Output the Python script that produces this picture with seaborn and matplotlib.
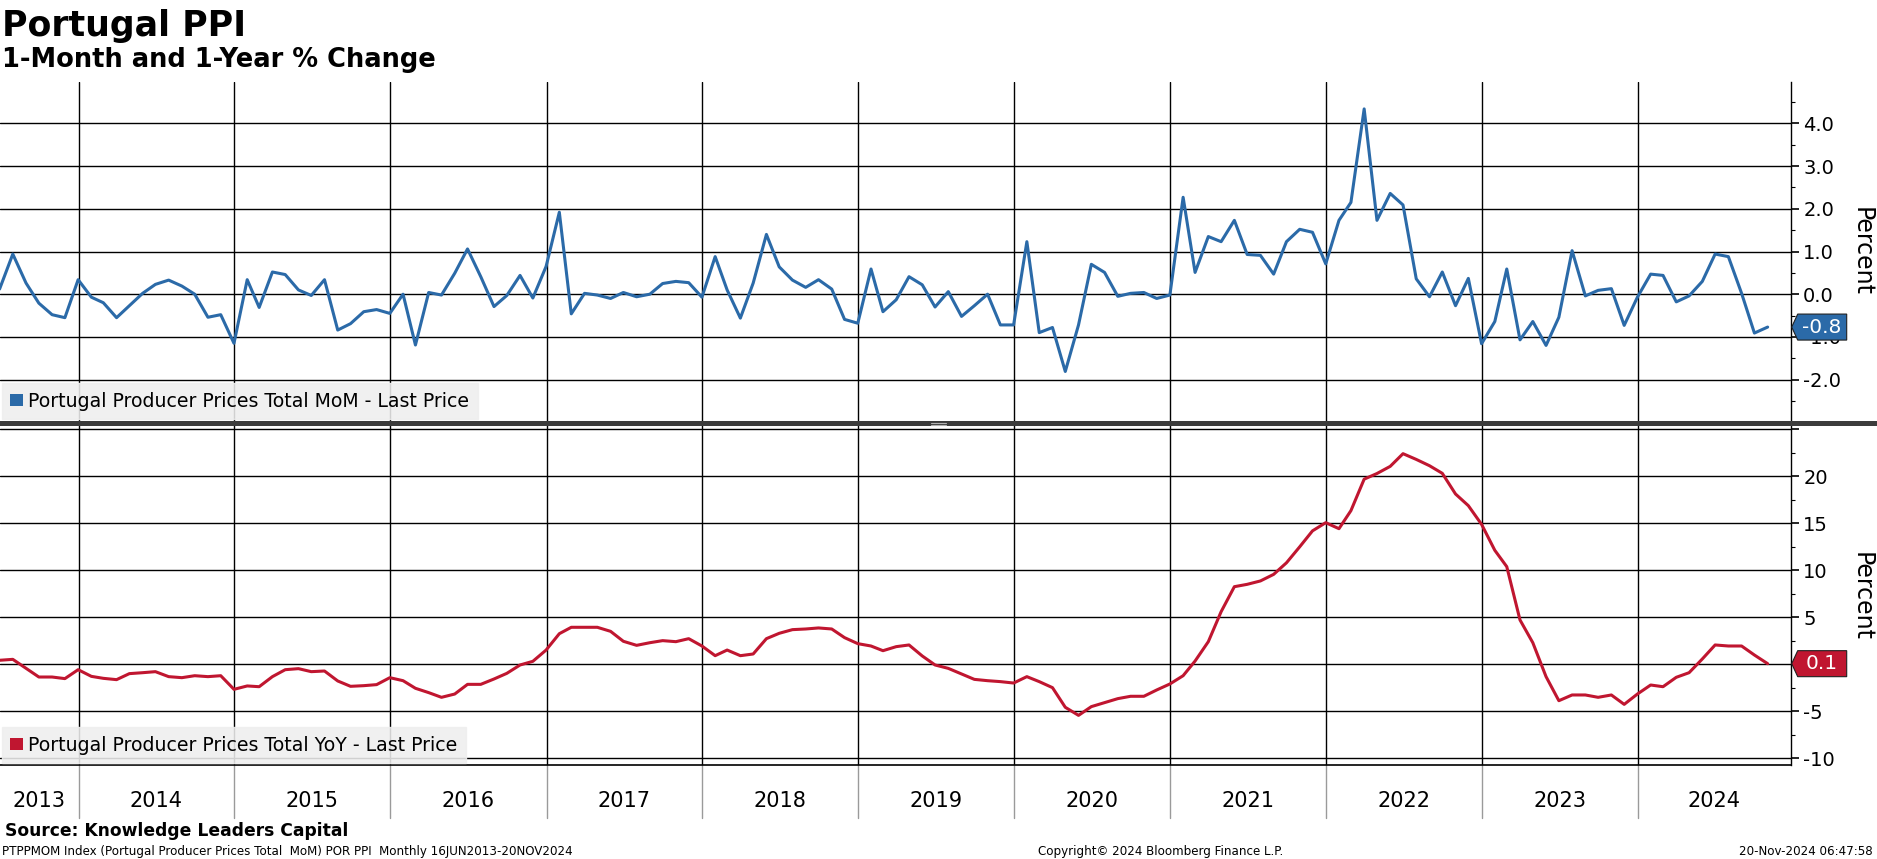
import numpy as np
import pandas as pd
import matplotlib
matplotlib.use("Agg")
import matplotlib.pyplot as plt
import matplotlib.dates as mdates
import matplotlib.ticker as mticker
from matplotlib.patches import Patch, Polygon, Rectangle
from matplotlib.lines import Line2D
from matplotlib.transforms import IdentityTransform
import seaborn as sns

# Monthly data, Jun 2013 .. Oct 2024 (month-end dates)
mom = [0.12, 0.94, 0.26, -0.21, -0.48, -0.55, 0.34, -0.07, -0.20, -0.55,
       -0.27, 0.02, 0.23, 0.33, 0.19, 0.00, -0.54, -0.48, -1.15, 0.34,
       -0.31, 0.52, 0.46, 0.10, -0.03, 0.34, -0.84, -0.69, -0.41, -0.36,
       -0.45, 0.00, -1.19, 0.04, -0.02, 0.49, 1.06, 0.41, -0.29, -0.03,
       0.44, -0.09, 0.65, 1.92, -0.46, 0.02, -0.02, -0.10, 0.04, -0.06,
       0.00, 0.25, 0.30, 0.27, -0.07, 0.88, 0.10, -0.56, 0.26, 1.40,
       0.64, 0.33, 0.16, 0.34, 0.12, -0.59, -0.68, 0.59, -0.41, -0.13,
       0.41, 0.22, -0.30, 0.06, -0.52, -0.27, 0.00, -0.72, -0.72, 1.23,
       -0.90, -0.78, -1.81, -0.72, 0.70, 0.51, -0.05, 0.02, 0.04, -0.10,
       -0.02, 2.27, 0.51, 1.35, 1.23, 1.73, 0.93, 0.91, 0.47, 1.23,
       1.52, 1.45, 0.71, 1.73, 2.15, 4.34, 1.73, 2.36, 2.09, 0.36,
       -0.06, 0.52, -0.27, 0.37, -1.16, -0.64, 0.59, -1.07, -0.64, -1.20,
       -0.54, 1.02, -0.04, 0.09, 0.13, -0.73, -0.07, 0.47, 0.44, -0.18,
       -0.04, 0.30, 0.94, 0.88, 0.02, -0.91, -0.77]

yoy = [0.43, 0.53, -0.43, -1.35, -1.35, -1.52, -0.57, -1.28, -1.49, -1.63,
       -0.99, -0.89, -0.78, -1.31, -1.42, -1.21, -1.31, -1.21, -2.66, -2.30,
       -2.38, -1.31, -0.57, -0.46, -0.78, -0.71, -1.77, -2.34, -2.27, -2.16,
       -1.42, -1.74, -2.55, -3.01, -3.51, -3.16, -2.13, -2.13, -1.56, -0.96,
       -0.07, 0.32, 1.52, 3.26, 3.94, 3.94, 3.94, 3.51, 2.45, 2.02,
       2.30, 2.52, 2.41, 2.73, 1.95, 0.92, 1.52, 0.92, 1.10, 2.73,
       3.30, 3.69, 3.76, 3.87, 3.76, 2.84, 2.20, 1.95, 1.45, 1.88,
       2.06, 0.89, -0.07, -0.43, -1.03, -1.60, -1.74, -1.84, -1.99, -1.31,
       -1.84, -2.48, -4.57, -5.43, -4.50, -4.08, -3.65, -3.40, -3.40, -2.73,
       -2.09, -1.21, 0.35, 2.41, 5.60, 8.26, 8.51, 8.87, 9.57, 10.80,
       12.50, 14.20, 15.07, 14.43, 16.35, 19.70, 20.30, 21.06, 22.41, 21.80,
       21.13, 20.32, 18.12, 16.88, 14.89, 12.13, 10.39, 4.72, 2.30, -1.31,
       -3.87, -3.26, -3.26, -3.51, -3.26, -4.26, -3.16, -2.20, -2.38, -1.38,
       -0.89, 0.57, 2.06, 1.95, 1.95, 0.99, 0.07]

years = list(range(2013, 2025))
mom_label = "Portugal Producer Prices Total MoM - Last Price"
yoy_label = "Portugal Producer Prices Total YoY - Last Price"

df = pd.DataFrame({
    "date": pd.date_range("2013-06-30", periods=len(mom), freq="ME"),
    "mom": mom,
    "yoy": yoy,
})

blue = "#2b6aa8"
red = "#c01630"

sns.set_style("white")
plt.rcParams["font.family"] = ["DejaVu Sans"]
plt.rcParams["text.color"] = "black"
plt.rcParams["axes.labelcolor"] = "black"
plt.rcParams["xtick.color"] = "black"
plt.rcParams["ytick.color"] = "black"

W, H = 1877, 859
fig = plt.figure(figsize=(W / 100, H / 100), dpi=100)

# axes rects from pixel positions
right_px = 1790.7
ax1 = fig.add_axes([0, 1 - 421 / H, right_px / W, (421 - 82) / H])
ax2 = fig.add_axes([0, 1 - 765 / H, right_px / W, (765 - 422) / H])

sns.lineplot(data=df, x="date", y="mom", ax=ax1, color=blue, linewidth=2.2, zorder=3)
sns.lineplot(data=df, x="date", y="yoy", ax=ax2, color=red, linewidth=2.2, zorder=3)

xmin = pd.Timestamp("2013-07-01")
xmax = pd.Timestamp("2024-12-24")
ax1.set_ylim(-2.97, 4.97)
ax2.set_ylim(-10.71, 25.78)

for ax in (ax1, ax2):
    ax.set_xlim(xmin, xmax)
    ax.set_xlabel("")
    ax.set_ylabel("")
    ax.yaxis.tick_right()
    ax.xaxis.set_major_locator(mdates.YearLocator())
    ax.xaxis.set_major_formatter(mticker.NullFormatter())
    ax.grid(True, which="major", color="black", linewidth=1.0)
    ax.spines["left"].set_visible(False)
    ax.spines["top"].set_visible(False)
    ax.spines["right"].set_color("black")
    ax.spines["right"].set_linewidth(1.0)
    ax.tick_params(axis="y", which="major", direction="out", length=6, width=1.2,
                   labelsize=14, pad=3, colors="black")
    ax.tick_params(axis="y", which="minor", direction="out", length=3, width=0.8,
                   right=True, left=False)
    ax.tick_params(axis="x", which="major", length=0)
    ax.set_facecolor("white")

ax1.spines["bottom"].set_visible(False)
ax2.spines["bottom"].set_color("black")
ax2.spines["bottom"].set_linewidth(1.2)

ax1.yaxis.set_major_locator(mticker.MultipleLocator(1))
ax1.yaxis.set_minor_locator(mticker.MultipleLocator(0.5))
ax1.yaxis.set_major_formatter(mticker.FuncFormatter(
    lambda v, p: f"{v:.1f}" if -2.5 < v < 4.5 else ""))
ax2.yaxis.set_major_locator(mticker.MultipleLocator(5))
ax2.yaxis.set_minor_locator(mticker.MultipleLocator(2.5))
ax2.yaxis.set_major_formatter(mticker.FuncFormatter(
    lambda v, p: f"{v:.0f}" if -11 < v < 22 else ""))

ax2.xaxis.set_minor_locator(mdates.MonthLocator(bymonth=[1, 4, 7, 10]))
ax2.tick_params(axis="x", which="minor", direction="out", length=4, width=1, colors="black")

# year separators and labels below the lower panel
sep_frac = (818 - 765) / (765 - 422)
for y in years[1:]:
    ax2.axvline(pd.Timestamp(f"{y}-01-01"), ymin=-sep_frac, ymax=0, color="#9a9a9a",
                linewidth=1.0, clip_on=False)
for y in years:
    lo = max(pd.Timestamp(f"{y}-01-01"), xmin)
    hi = min(pd.Timestamp(f"{y + 1}-01-01"), xmax)
    mid = lo + (hi - lo) / 2
    ax2.text(mid, -(801 - 765) / (765 - 422), str(y), transform=ax2.get_xaxis_transform(),
             ha="center", va="center", fontsize=15, color="black")

for ax in (ax1, ax2):
    ax.text(1.0398, 0.5 if ax is ax1 else 0.49, "Percent", transform=ax.transAxes,
            rotation=270, ha="center", va="center", fontsize=17)

# legends
for ax, col, lab in ((ax1, blue, mom_label), (ax2, red, yoy_label)):
    leg = ax.legend(handles=[Patch(facecolor=col, edgecolor="none", label=lab)],
                    loc="lower left", bbox_to_anchor=(0, 0), frameon=True, fancybox=False,
                    fontsize=13.6, handlelength=0.65, handleheight=0.65, handletextpad=0.3,
                    borderpad=0.45, borderaxespad=0.1)
    fr = leg.get_frame()
    fr.set_facecolor("#eeeeee")
    fr.set_edgecolor("#eeeeee")
    fr.set_alpha(0.88)
    leg.set_zorder(5)

# panel separator bar
fig.add_artist(Rectangle((0, 1 - 426 / H), 1, 5 / H, transform=fig.transFigure,
                         facecolor="#3c3c3c", edgecolor="none", zorder=10))
for yy in (422.5, 424.5):
    fig.add_artist(Line2D([931 / W, 946 / W], [1 - yy / H, 1 - yy / H],
                          transform=fig.transFigure, color="#b0b0b0", linewidth=0.8, zorder=11))

# last value tags
for ax, col, val in ((ax1, blue, mom[-1]), (ax2, red, yoy[-1])):
    sx, sy = ax.get_yaxis_transform().transform((1.0, val))
    verts = [(sx + 1, sy), (sx + 7, sy + 13), (sx + 56, sy + 13),
             (sx + 56, sy - 13), (sx + 7, sy - 13)]
    fig.add_artist(Polygon(verts, closed=True, transform=IdentityTransform(),
                           facecolor=col, edgecolor="#202020", linewidth=0.8, zorder=12))
    fig.text(sx + 31, sy, f"{val:.1f}", transform=IdentityTransform(), ha="center",
             va="center", fontsize=14.5, color="white", zorder=13)

# titles
fig.text(2 / W, 1 - 36 / H, "Portugal PPI", fontsize=25, fontweight="bold", va="baseline")
fig.text(2 / W, 1 - 67 / H, "1-Month and 1-Year % Change", fontsize=18.5,
         fontweight="bold", va="baseline")

# footer
fig.text(5 / W, 1 - 836 / H, "Source: Knowledge Leaders Capital", fontsize=12.3,
         fontweight="bold", va="baseline")
fig.text(2 / W, 1 - 855 / H,
         "PTPPMOM Index (Portugal Producer Prices Total  MoM) POR PPI  Monthly 16JUN2013-20NOV2024",
         fontsize=8.6, va="baseline")
fig.text(1161 / W, 1 - 855 / H, "Copyright\u00a9 2024 Bloomberg Finance L.P.", fontsize=8.6,
         va="baseline", ha="center")
fig.text(1873 / W, 1 - 855 / H, "20-Nov-2024 06:47:58", fontsize=8.6, va="baseline", ha="right")

fig.savefig("out.png", dpi=100, facecolor="white")
